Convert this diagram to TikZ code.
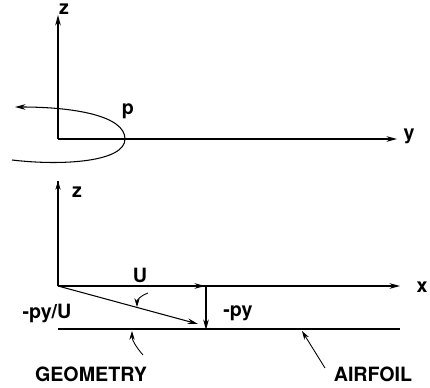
\documentclass[tikz,border=0pt]{standalone}
\usepackage{fontspec}
\setmainfont{TeX Gyre Heros}
\usetikzlibrary{positioning,calc,arrows.meta}

\begin{document}
\begin{tikzpicture}[x=0.02cm, y=-0.02cm,
  axis/.style={line width=0.6pt, -{Stealth[length=6pt,width=3.2pt]}},
  vec/.style={line width=0.6pt, -{Stealth[length=6pt,width=3.2pt]}},
  lead/.style={line width=0.5pt, -{Stealth[length=5pt,width=3pt]}},
  lbl/.style={font=\fontsize{11.2}{13}\selectfont\bfseries, inner sep=0pt},
]
\useasboundingbox (0,0) rectangle (430,388);

% Upper view: z-y plane with the airfoil section.
\coordinate (o1) at (58,139);
\coordinate (z1) at (58,15);
\coordinate (y1) at (397,139);
\draw[axis] (o1) -- (z1);
\draw[axis] (o1) -- (y1);
\node[lbl] (zl1) at (64,9) {z};
\node[lbl] (yl) at (409,136) {y};
\coordinate (s1) at (12,160);
\coordinate (tip) at (125,139);
\coordinate (e1) at (15,107);
\draw[vec] (s1) .. controls (62,166) and (125,162) .. (tip)
  .. controls (125,116) and (75,107) .. (e1);
\node[lbl] (p) at (128,111) {p};

% Lower view: x-z plane, flow and geometry.
\coordinate (o2) at (58,286);
\coordinate (z2) at (58,181);
\coordinate (x2) at (400,286);
\draw[line width=0.6pt] (o2) -- (z2);
\draw[-{Stealth[length=5pt,width=3pt]}, line width=0.6pt] (58,197) -- (z2);
\draw[axis] (o2) -- (x2);
\node[lbl] (zl2) at (77,192) {z};
\node[lbl] (xl) at (422,287) {x};

% Free stream and the displaced vector.
\coordinate (u) at (205,286);
\coordinate (d) at (206,330);
\coordinate (w) at (198,324);
\draw[vec] (o2) -- (u);
\draw[vec] ($(u)+(1,0)$) -- (d);
\draw[vec] (o2) -- (w);
\node[lbl] (ul) at (140,275) {U};
\node[lbl] (pyl) at (238,313) {-py};
\node[lbl] (pul) at (47,313) {-py/U};
\coordinate (a0) at (148,293);
\coordinate (a1) at (137,307);
\draw[lead] (a0) .. controls (140,296) and (137,300) .. (a1);

% Airfoil line and the leaders to it.
\coordinate (f0) at (58,329);
\coordinate (f1) at (400,329);
\draw[line width=0.6pt] (f0) -- (f1);
\coordinate (g0) at (143,355);
\coordinate (g1) at (132,331);
\draw[lead] (g0) .. controls (136,347) and (132,340) .. (g1);
\coordinate (r0) at (325,368);
\coordinate (r1) at (302,331);
\draw[lead] (r0) -- (r1);
\node[lbl] (geo) at (91,374) {GEOMETRY};
\node[lbl] (air) at (373,374) {AIRFOIL};

\end{tikzpicture}
\end{document}
